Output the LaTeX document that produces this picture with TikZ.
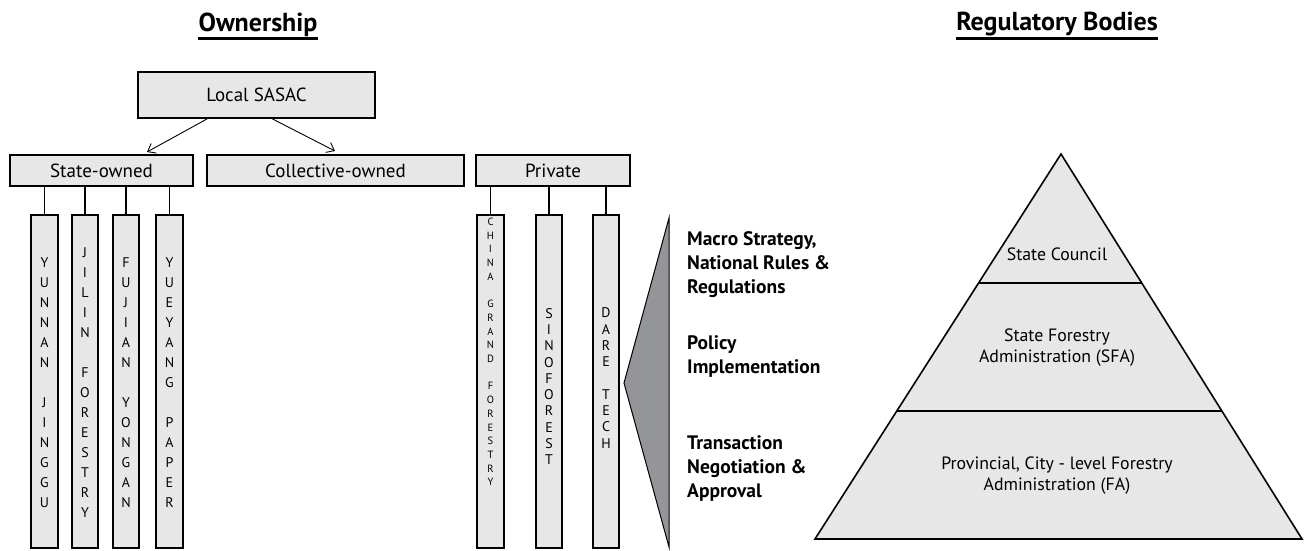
\documentclass[tikz,border=0pt]{standalone}
\usepackage{fontspec}
\setmainfont{PT Sans}
\usetikzlibrary{arrows.meta,calc}
\definecolor{boxgray}{HTML}{E6E7E6}
\definecolor{wedgegray}{HTML}{939598}
\begin{document}
\begin{tikzpicture}[x=1pt,y=-1pt,
  box/.style={draw, line width=1.6pt, fill=boxgray, inner sep=0pt, font=\fontsize{19}{22}\selectfont},
  bar/.style={draw, line width=1.6pt, fill=boxgray, inner sep=0pt, minimum width=26.5pt, minimum height=333pt},
  vtext/.style={align=center, inner sep=0pt, font=\fontsize{14}{20}\selectfont},
  vsmall/.style={align=center, inner sep=0pt, font=\fontsize{10.5}{13.7}\selectfont},
  vmid/.style={align=center, inner sep=0pt, font=\fontsize{14}{16.3}\selectfont},
  link/.style={line width=1.3pt},
  arr/.style={line width=0.9pt, -{Straight Barb[length=7pt,width=11pt]}},
  title/.style={inner sep=0pt, anchor=base, font=\fontsize{26}{30}\selectfont\bfseries},
  lbl/.style={inner sep=0pt, anchor=west, align=left, font=\fontsize{19.5}{24}\selectfont\bfseries},
  ptext/.style={inner sep=0pt, align=center, font=\fontsize{17.8}{21}\selectfont}]
\useasboundingbox (0,0) rectangle (1314,550);

% titles
\node[title] (own) at (258,31) {Ownership};
\draw[line width=3pt] ([yshift=-7pt]own.base west) -- ([yshift=-7pt]own.base east);
\node[title] (reg) at (1057,30) {Regulatory Bodies};
\draw[line width=3pt] ([yshift=-8pt]reg.base west) -- ([yshift=-8pt]reg.base east);

% top boxes
\node[box, minimum width=237pt, minimum height=46pt] (sasac) at (256.5,95) {Local SASAC};
\node[box, minimum width=183pt, minimum height=31pt] (so) at (101.5,170.5) {State-owned};
\node[box, minimum width=257pt, minimum height=31pt] (co) at (335.5,170.5) {Collective-owned};
\node[box, minimum width=154pt, minimum height=31pt] (pr) at (553,170.5) {Private};

\coordinate (a1) at (147,152);
\coordinate (a2) at (335,151);
\draw[arr] ([xshift=70pt]sasac.south west) -- (a1);
\draw[arr] ([xshift=135pt]sasac.south west) -- (a2);

% state-owned bars
\node[bar] (b1) at (44.5,381.5) {};
\node[bar] (b2) at (85,381.5) {};
\node[bar] (b3) at (126,381.5) {};
\node[bar] (b4) at (169.5,381.5) {};
\foreach \b in {b1,b2,b3,b4} \draw[link] (\b.north) -- (\b.north |- so.south);

\node[vtext] (t1) at (44.5,382.5) {Y\\U\\N\\N\\A\\N\\\mbox{}\\J\\I\\N\\G\\G\\U};
\node[vtext] (t2) at (85,382.5) {J\\I\\L\\I\\N\\\mbox{}\\F\\O\\R\\E\\S\\T\\R\\Y};
\node[vtext] (t3) at (126,382.5) {F\\U\\J\\I\\A\\N\\\mbox{}\\Y\\O\\N\\G\\A\\N};
\node[vtext] (t4) at (169.5,382.5) {Y\\U\\E\\Y\\A\\N\\G\\\mbox{}\\P\\A\\P\\E\\R};

% private bars
\node[bar] (p1) at (490.5,381.5) {};
\node[bar] (p2) at (549,381.5) {};
\node[bar] (p3) at (606,381.5) {};
\foreach \b in {p1,p2,p3} \draw[link] (\b.north) -- (\b.north |- pr.south);

\node[vsmall] (u1) at (490.5,352) {C\\H\\I\\N\\A\\\mbox{}\\G\\R\\A\\N\\D\\\mbox{}\\F\\O\\R\\E\\S\\T\\R\\Y};
\node[vmid] (u2) at (549,386.5) {S\\I\\N\\O\\F\\O\\R\\E\\S\\T};
\node[vmid] (u3) at (606,378) {D\\A\\R\\E\\\mbox{}\\T\\E\\C\\H};

% wedge
\draw[fill=wedgegray, line width=1pt, line join=miter] (669,218) -- (624,383) -- (669,547) -- cycle;

% level labels
\node[lbl] (l1) at (687,264.5) {Macro Strategy,\\National Rules \&\\Regulations};
\node[lbl] (l2) at (687,356.5) {Policy\\Implementation};
\node[lbl] (l3) at (687,468.5) {Transaction\\Negotiation \&\\Approval};

% pyramid
\coordinate (pl) at (815,539);
\coordinate (pa) at (1061,154);
\coordinate (pr2) at (1302,539);
\draw[fill=boxgray, line width=1.6pt, line join=miter] (pl) -- (pa) -- (pr2) -- cycle;
\draw[line width=1.6pt] ($(pl)!0.665!(pa)$) -- ($(pr2)!0.665!(pa)$);
\draw[line width=1.6pt] ($(pl)!0.3325!(pa)$) -- ($(pr2)!0.3325!(pa)$);

\node[ptext] (sc) at (1057,254) {State Council};
\node[ptext] (sfa) at (1057,348) {State Forestry\\Administration (SFA)};
\node[ptext] (fa) at (1057,476) {Provincial, City - level Forestry\\Administration (FA)};
\end{tikzpicture}
\end{document}
